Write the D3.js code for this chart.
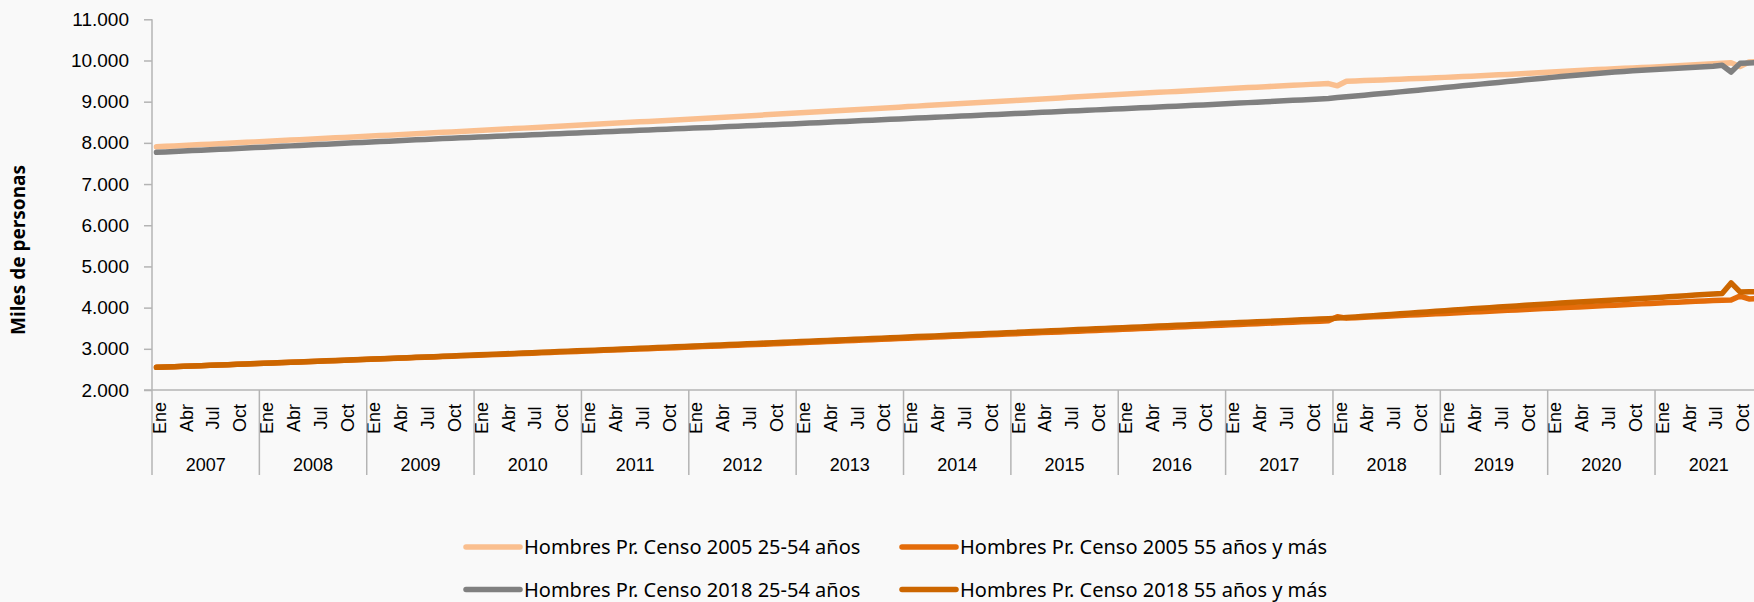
<!DOCTYPE html>
<html>
<head>
<meta charset="utf-8">
<script src="https://cdn.jsdelivr.net/npm/d3@7"></script>
<style>
body { margin: 0; background: #f9f9f9; }
svg { display: block; font-family: "Noto Sans", "Open Sans", sans-serif; }
</style>
</head>
<body>
<script>
// categories
var years = [2007, 2008, 2009, 2010, 2011, 2012, 2013, 2014, 2015, 2016, 2017, 2018, 2019, 2020, 2021];
var months = ['Ene', 'Feb', 'Mar', 'Abr', 'May', 'Jun', 'Jul', 'Ago', 'Sep', 'Oct', 'Nov', 'Dic'];
var shownMonths = ['Ene', 'Abr', 'Jul', 'Oct'];
var yTicks = [2000, 3000, 4000, 5000, 6000, 7000, 8000, 9000, 10000, 11000];

var seriesNames = [
    'Hombres Pr. Censo 2005 25-54 años',
    'Hombres Pr. Censo 2005 55 años y más',
    'Hombres Pr. Censo 2018 25-54 años',
    'Hombres Pr. Censo 2018 55 años y más'
];

// miles de personas, one row per year (Ene..Dic)
var censo2005_25_54 = [
    7905, 7916, 7926, 7937, 7948, 7958, 7969, 7980, 7991, 8002, 8013, 8024,
    8035, 8046, 8057, 8067, 8078, 8089, 8100, 8111, 8122, 8133, 8144, 8154,
    8165, 8176, 8187, 8199, 8210, 8221, 8232, 8244, 8255, 8266, 8277, 8288,
    8300, 8311, 8323, 8334, 8346, 8358, 8369, 8381, 8393, 8405, 8416, 8428,
    8440, 8452, 8463, 8475, 8486, 8498, 8510, 8521, 8533, 8545, 8556, 8568,
    8580, 8592, 8605, 8617, 8630, 8642, 8655, 8667, 8680, 8692, 8705, 8717,
    8730, 8742, 8755, 8767, 8780, 8792, 8805, 8817, 8830, 8842, 8855, 8867,
    8880, 8892, 8905, 8917, 8930, 8942, 8955, 8967, 8980, 8992, 9005, 9017,
    9030, 9042, 9055, 9067, 9080, 9092, 9105, 9117, 9130, 9142, 9155, 9167,
    9180, 9192, 9203, 9215, 9227, 9238, 9250, 9262, 9273, 9285, 9297, 9308,
    9320, 9331, 9342, 9353, 9364, 9375, 9386, 9397, 9408, 9420, 9430, 9440,
    9385, 9495, 9503, 9512, 9520, 9529, 9537, 9546, 9554, 9563, 9571, 9580,
    9590, 9600, 9610, 9620, 9630, 9640, 9651, 9662, 9673, 9684, 9695, 9706,
    9720, 9732, 9744, 9756, 9768, 9780, 9790, 9800, 9810, 9819, 9828, 9837,
    9850, 9862, 9874, 9886, 9898, 9910, 9922, 9934, 9946, 9852, 9962, 9972
];
var censo2005_55mas = [
    2550, 2558, 2566, 2574, 2582, 2590, 2598, 2606, 2614, 2623, 2631, 2639,
    2647, 2655, 2664, 2672, 2680, 2688, 2696, 2705, 2713, 2721, 2729, 2738,
    2746, 2754, 2762, 2771, 2779, 2787, 2795, 2804, 2812, 2820, 2829, 2837,
    2845, 2853, 2862, 2870, 2878, 2887, 2895, 2903, 2912, 2920, 2928, 2937,
    2945, 2953, 2962, 2970, 2978, 2987, 2995, 3003, 3012, 3020, 3028, 3037,
    3045, 3054, 3062, 3070, 3079, 3087, 3096, 3104, 3112, 3121, 3129, 3138,
    3150, 3159, 3168, 3177, 3186, 3195, 3204, 3213, 3222, 3231, 3240, 3249,
    3258, 3267, 3276, 3285, 3294, 3303, 3312, 3321, 3330, 3339, 3348, 3357,
    3366, 3375, 3384, 3393, 3402, 3411, 3420, 3429, 3438, 3447, 3456, 3465,
    3474, 3483, 3492, 3501, 3510, 3519, 3528, 3537, 3546, 3555, 3564, 3573,
    3582, 3591, 3600, 3609, 3618, 3627, 3636, 3645, 3654, 3663, 3672, 3681,
    3780, 3745, 3755, 3766, 3776, 3787, 3797, 3808, 3818, 3829, 3839, 3850,
    3860, 3871, 3881, 3892, 3902, 3913, 3923, 3934, 3944, 3955, 3965, 3976,
    3986, 3997, 4007, 4018, 4028, 4039, 4049, 4060, 4070, 4081, 4091, 4102,
    4112, 4122, 4132, 4142, 4152, 4161, 4170, 4178, 4186, 4280, 4210, 4215
];
var censo2018_25_54 = [
    7770, 7780, 7791, 7801, 7812, 7822, 7833, 7843, 7854, 7864, 7875, 7885,
    7896, 7906, 7917, 7927, 7938, 7948, 7959, 7969, 7980, 7990, 8001, 8011,
    8022, 8032, 8042, 8053, 8063, 8073, 8084, 8094, 8104, 8115, 8124, 8133,
    8142, 8151, 8160, 8169, 8178, 8187, 8196, 8205, 8214, 8223, 8232, 8241,
    8250, 8259, 8268, 8277, 8286, 8295, 8304, 8313, 8322, 8331, 8340, 8349,
    8358, 8367, 8376, 8386, 8395, 8404, 8414, 8423, 8433, 8442, 8452, 8461,
    8471, 8481, 8491, 8501, 8511, 8521, 8531, 8541, 8551, 8561, 8571, 8581,
    8591, 8601, 8611, 8621, 8631, 8641, 8651, 8661, 8671, 8681, 8691, 8701,
    8711, 8721, 8731, 8741, 8751, 8761, 8771, 8781, 8791, 8801, 8811, 8821,
    8831, 8841, 8851, 8861, 8871, 8881, 8891, 8901, 8911, 8921, 8931, 8941,
    8955, 8966, 8977, 8988, 8999, 9010, 9021, 9032, 9043, 9054, 9066, 9078,
    9100, 9119, 9138, 9158, 9178, 9198, 9218, 9238, 9258, 9279, 9300, 9321,
    9342, 9363, 9384, 9405, 9426, 9447, 9468, 9489, 9510, 9530, 9550, 9570,
    9590, 9610, 9630, 9650, 9668, 9686, 9702, 9718, 9733, 9748, 9762, 9776,
    9789, 9801, 9813, 9825, 9837, 9849, 9860, 9885, 9720, 9930, 9940, 9950
];
var censo2018_55mas = [
    2550, 2558, 2566, 2574, 2582, 2590, 2599, 2607, 2615, 2624, 2632, 2641,
    2649, 2657, 2666, 2674, 2682, 2691, 2699, 2708, 2716, 2725, 2733, 2742,
    2750, 2759, 2767, 2776, 2784, 2793, 2802, 2810, 2819, 2828, 2836, 2845,
    2854, 2862, 2871, 2880, 2889, 2897, 2906, 2915, 2924, 2933, 2941, 2950,
    2959, 2968, 2977, 2985, 2994, 3003, 3012, 3021, 3030, 3039, 3048, 3057,
    3066, 3075, 3084, 3093, 3102, 3111, 3120, 3129, 3139, 3148, 3157, 3166,
    3175, 3184, 3193, 3203, 3212, 3221, 3230, 3240, 3249, 3258, 3268, 3277,
    3286, 3296, 3305, 3314, 3324, 3333, 3343, 3352, 3362, 3371, 3380, 3390,
    3399, 3409, 3418, 3428, 3437, 3447, 3456, 3466, 3475, 3485, 3494, 3504,
    3513, 3523, 3532, 3542, 3551, 3561, 3570, 3580, 3589, 3599, 3608, 3618,
    3627, 3637, 3646, 3656, 3665, 3675, 3684, 3694, 3703, 3713, 3722, 3732,
    3745, 3760, 3775, 3790, 3805, 3820, 3835, 3850, 3865, 3880, 3895, 3910,
    3925, 3940, 3955, 3970, 3985, 4000, 4014, 4028, 4042, 4056, 4070, 4084,
    4097, 4110, 4123, 4136, 4149, 4162, 4174, 4186, 4198, 4210, 4222, 4234,
    4248, 4262, 4276, 4290, 4304, 4318, 4332, 4345, 4600, 4382, 4386, 4390
];

var seriesData = [censo2005_25_54, censo2005_55mas, censo2018_25_54, censo2018_55mas];
var colors = ['#fabf8f', '#e46c0a', '#808080', '#cc6600'];
var axisColor = '#b4b4b4';

var w = 1754;
var h = 602;
var plotLeft = 152, plotRight = 1762.4, plotTop = 19.3, plotBottom = 390;

var categories = [];
years.forEach(function(yr){
    months.forEach(function(m){
        categories.push(yr + '-' + m);
    });
});

var svg = d3.select('body')
    .append('svg')
    .attr('width', w)
    .attr('height', h);

svg.append('rect')
    .attr('width', w)
    .attr('height', h)
    .attr('fill', '#f9f9f9');

var x = d3.scaleBand().domain(categories).range([plotLeft, plotRight]);
var xYear = d3.scaleBand().domain(years).range([plotLeft, plotRight]);
var y = d3.scaleLinear().domain([2000, 11000]).range([plotBottom, plotTop]);

var es = d3.formatLocale({decimal: ',', thousands: '.', grouping: [3], currency: ['', '']});

// y axis
var gy = svg.append('g')
    .attr('transform', 'translate(' + plotLeft + ',0)')
    .call(d3.axisLeft(y).tickValues(yTicks).tickSize(8).tickPadding(15).tickFormat(es.format(',d')));
gy.select('.domain').remove();
gy.selectAll('line').attr('stroke', axisColor).attr('stroke-width', 1.5);
gy.selectAll('text').attr('font-size', '19px').attr('fill', '#000');

svg.append('line')
    .attr('x1', plotLeft).attr('x2', plotLeft)
    .attr('y1', plotTop).attr('y2', 475)
    .attr('stroke', axisColor).attr('stroke-width', 1.5);

// x axis: months
var gx = svg.append('g')
    .attr('transform', 'translate(0,' + plotBottom + ')')
    .call(d3.axisBottom(x)
        .tickValues(categories.filter(function(c){ return shownMonths.indexOf(c.split('-')[1]) >= 0; }))
        .tickSize(0)
        .tickFormat(function(c){ return c.split('-')[1]; }));
gx.select('.domain').remove();
gx.selectAll('text')
    .attr('transform', 'rotate(-90)')
    .attr('x', -28)
    .attr('y', 9.2)
    .attr('dy', 0)
    .attr('text-anchor', 'middle')
    .attr('font-size', '18px')
    .attr('fill', '#000');

// x axis: years
var gyr = svg.append('g')
    .attr('transform', 'translate(0,' + plotBottom + ')')
    .call(d3.axisBottom(xYear).tickSize(0).tickFormat(function(d){ return d; }));
gyr.select('.domain').remove();
gyr.selectAll('text')
    .attr('y', 80.5)
    .attr('dy', 0)
    .attr('font-size', '18px')
    .attr('fill', '#000');

svg.append('line')
    .attr('x1', 144).attr('x2', w)
    .attr('y1', plotBottom).attr('y2', plotBottom)
    .attr('stroke', axisColor).attr('stroke-width', 1.5);

svg.selectAll('.year-sep')
    .data(years.slice(1).concat(['end']))
    .enter()
    .append('line')
    .attr('class', 'year-sep')
    .attr('x1', function(d){ return d === 'end' ? plotRight : xYear(d); })
    .attr('x2', function(d){ return d === 'end' ? plotRight : xYear(d); })
    .attr('y1', plotBottom).attr('y2', 475)
    .attr('stroke', axisColor).attr('stroke-width', 1.5);

// y title
svg.append('text')
    .text('Miles de personas')
    .attr('transform', 'translate(25,250) rotate(-90)')
    .attr('text-anchor', 'middle')
    .attr('font-size', '19px')
    .attr('font-weight', 'bold')
    .attr('fill', '#000');

// lines
var line = d3.line()
    .x(function(d, i){ return x(categories[i]) + x.bandwidth() / 2; })
    .y(function(d){ return y(d); });

svg.selectAll('.serie')
    .data(seriesData)
    .enter()
    .append('path')
    .attr('class', 'serie')
    .attr('d', line)
    .attr('fill', 'none')
    .attr('stroke', function(d, i){ return colors[i]; })
    .attr('stroke-width', 5.5)
    .attr('stroke-linejoin', 'round')
    .attr('stroke-linecap', 'round');

// legend 2x2
var legendCols = [466, 902];
var legendRows = [547, 589.5];
var legend = svg.selectAll('.legend')
    .data(seriesNames)
    .enter()
    .append('g')
    .attr('class', 'legend')
    .attr('transform', function(d, i){
        return 'translate(' + legendCols[i % 2] + ',' + legendRows[Math.floor(i / 2)] + ')';
    });
legend.append('line')
    .attr('x1', 0).attr('x2', 54)
    .attr('stroke', function(d, i){ return colors[i]; })
    .attr('stroke-width', 5.5)
    .attr('stroke-linecap', 'round');
legend.append('text')
    .text(function(d){ return d; })
    .attr('x', 58)
    .attr('dy', '0.35em')
    .attr('font-size', '20px')
    .attr('fill', '#000');
</script>
</body>
</html>
